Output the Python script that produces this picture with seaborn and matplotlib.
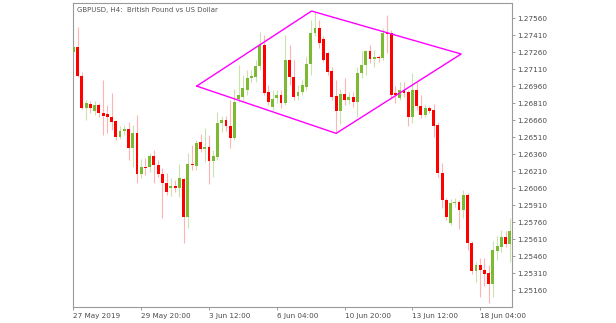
import numpy as np
import pandas as pd
import matplotlib
matplotlib.use("Agg")
import matplotlib.pyplot as plt
import seaborn as sns

# ---- data (GBPUSD H4 candles) ----
opens = [1.27260, 1.27304, 1.27049, 1.26766, 1.26802, 1.26740, 1.26793, 1.26722, 1.26713, 1.26687,
         1.26652, 1.26511, 1.26564, 1.26581, 1.26414, 1.26546, 1.26184, 1.26246, 1.26246, 1.26343,
         1.26264, 1.26184, 1.26105, 1.26061, 1.26078, 1.26061, 1.26140, 1.25805, 1.26272, 1.26255,
         1.26467, 1.26405, 1.26422, 1.26299, 1.26334, 1.26634, 1.26661, 1.26608, 1.26502, 1.26846,
         1.26863, 1.26925, 1.27031, 1.27040, 1.27137, 1.27322, 1.26907, 1.26775, 1.26855, 1.26881,
         1.26810, 1.27190, 1.27040, 1.26872, 1.26907, 1.26952, 1.27155, 1.27428, 1.27472, 1.27375,
         1.27252, 1.27093, 1.26872, 1.26740, 1.26890, 1.26837, 1.26863, 1.26819, 1.27075, 1.27146,
         1.27269, 1.27199, 1.27216, 1.27207, 1.27437, 1.27428, 1.26899, 1.26855, 1.26925, 1.26907,
         1.26687, 1.26925, 1.26784, 1.26705, 1.26766, 1.26749, 1.26616, 1.26193, 1.25955, 1.25752,
         1.25928, 1.25937, 1.25867, 1.25999, 1.25576, 1.25329, 1.25382, 1.25337, 1.25311, 1.25214,
         1.25505, 1.25541, 1.25629, 1.25567]
highs = [1.27313, 1.27481, 1.27084, 1.26837, 1.26828, 1.26828, 1.26810, 1.27013, 1.26793, 1.26899,
         1.26661, 1.26608, 1.26616, 1.26643, 1.26616, 1.26705, 1.26316, 1.26325, 1.26369, 1.26396,
         1.26308, 1.26237, 1.26193, 1.26149, 1.26131, 1.26272, 1.26149, 1.26369, 1.26440, 1.26484,
         1.26537, 1.26590, 1.26528, 1.26396, 1.26731, 1.26696, 1.26696, 1.26837, 1.26934, 1.27146,
         1.27057, 1.27102, 1.27102, 1.27190, 1.27437, 1.27410, 1.26969, 1.26925, 1.26925, 1.26925,
         1.27410, 1.27322, 1.27190, 1.26969, 1.27013, 1.27216, 1.27543, 1.27613, 1.27543, 1.27401,
         1.27260, 1.27128, 1.27013, 1.26934, 1.27031, 1.26907, 1.26907, 1.27128, 1.27269, 1.27278,
         1.27322, 1.27278, 1.27234, 1.27472, 1.27587, 1.27454, 1.26960, 1.26996, 1.26996, 1.26925,
         1.27075, 1.26996, 1.26881, 1.26793, 1.26784, 1.26802, 1.26643, 1.26281, 1.25973, 1.25964,
         1.25973, 1.25955, 1.26043, 1.26017, 1.25593, 1.25408, 1.25443, 1.25443, 1.25382, 1.25593,
         1.25637, 1.25690, 1.25682, 1.25796]
lows = [1.27255, 1.27040, 1.26758, 1.26661, 1.26722, 1.26705, 1.26687, 1.26528, 1.26546, 1.26572,
        1.26484, 1.26493, 1.26528, 1.26308, 1.26246, 1.26105, 1.26149, 1.26175, 1.26202, 1.26105,
        1.26158, 1.25796, 1.25999, 1.25990, 1.26026, 1.25981, 1.25576, 1.25708, 1.26220, 1.26220,
        1.26378, 1.26290, 1.26096, 1.26158, 1.26308, 1.26555, 1.26564, 1.26414, 1.26484, 1.26819,
        1.26837, 1.26881, 1.26996, 1.26996, 1.27102, 1.26881, 1.26793, 1.26749, 1.26810, 1.26766,
        1.26793, 1.26969, 1.26837, 1.26837, 1.26881, 1.26925, 1.27057, 1.27401, 1.27296, 1.27172,
        1.27057, 1.26837, 1.26546, 1.26625, 1.26793, 1.26802, 1.26775, 1.26687, 1.27031, 1.27057,
        1.27163, 1.27128, 1.27172, 1.27190, 1.27252, 1.26855, 1.26810, 1.26837, 1.26863, 1.26608,
        1.26634, 1.26749, 1.26678, 1.26687, 1.26722, 1.26511, 1.26158, 1.25884, 1.25779, 1.25735,
        1.25893, 1.25699, 1.25796, 1.25514, 1.25302, 1.25232, 1.25098, 1.25196, 1.25046, 1.25098,
        1.25426, 1.25496, 1.25541, 1.25408]
closes = [1.27304, 1.27049, 1.26766, 1.26810, 1.26766, 1.26793, 1.26722, 1.26696, 1.26687, 1.26643,
          1.26511, 1.26564, 1.26581, 1.26414, 1.26546, 1.26184, 1.26246, 1.26233, 1.26343, 1.26264,
          1.26184, 1.26105, 1.26026, 1.26078, 1.26061, 1.26149, 1.25805, 1.26272, 1.26264, 1.26458,
          1.26405, 1.26422, 1.26299, 1.26343, 1.26634, 1.26661, 1.26608, 1.26502, 1.26819, 1.26881,
          1.26943, 1.27031, 1.27049, 1.27137, 1.27322, 1.26899, 1.26819, 1.26846, 1.26881, 1.26810,
          1.27190, 1.27040, 1.26863, 1.26907, 1.26969, 1.27155, 1.27428, 1.27472, 1.27340, 1.27190,
          1.27084, 1.26863, 1.26740, 1.26890, 1.26837, 1.26863, 1.26819, 1.27075, 1.27146, 1.27269,
          1.27199, 1.27216, 1.27207, 1.27428, 1.27419, 1.26881, 1.26881, 1.26925, 1.26899, 1.26687,
          1.26925, 1.26784, 1.26705, 1.26766, 1.26740, 1.26608, 1.26193, 1.25955, 1.25805, 1.25928,
          1.25937, 1.25867, 1.25999, 1.25576, 1.25329, 1.25382, 1.25337, 1.25302, 1.25214, 1.25514,
          1.25549, 1.25629, 1.25567, 1.25682]

date_labels = ["27 May 2019", "29 May 20:00", "3 Jun 12:00", "6 Jun 04:00",
               "10 Jun 20:00", "13 Jun 12:00", "18 Jun 04:00"]
date_label_bars = [0, 16, 32, 48, 64, 80, 96]
price_ticks = [1.25160, 1.25310, 1.25460, 1.25610, 1.25760, 1.25910, 1.26060, 1.26210, 1.26360,
               1.26510, 1.26660, 1.26810, 1.26960, 1.27110, 1.27260, 1.27410, 1.27560]

# diamond pattern vertices (bar position, price)
diamond_bar = [29.1, 56.2, 91.5, 62.0, 29.1]
diamond_price = [1.26960, 1.27622, 1.27243, 1.26543, 1.26960]

title = "GBPUSD, H4:  British Pound vs US Dollar"

# ---- plotting ----
sns.set_theme(style="white")
plt.rcParams['font.family'] = ['DejaVu Sans']

W, H = 616, 323
fig = plt.figure(figsize=(W / 100, H / 100), dpi=100)
ax = fig.add_axes([73 / W, 16 / H, (512 - 73) / W, (307 - 3) / H])

df = pd.DataFrame({"bar": np.arange(len(opens)), "open": opens, "high": highs,
                   "low": lows, "close": closes})
up = df["close"] >= df["open"]

body_up = "#7cba34"
body_dn = "#ff0000"
wick_up = "#c9e3ad"
wick_dn = "#ffb4b4"

wick_colors = np.where(up, wick_up, wick_dn)
ax.vlines(df["bar"], df["low"], df["high"], colors=wick_colors, linewidth=0.8, zorder=2)

body_lo = np.minimum(df["open"], df["close"])
body_h = np.abs(df["close"] - df["open"])
min_h = 0.00007
body_lo = np.where(body_h < min_h, (df["open"] + df["close"]) / 2 - min_h / 2, body_lo)
body_h = np.maximum(body_h, min_h)
ax.bar(df["bar"], body_h, bottom=body_lo, width=0.68,
       color=np.where(up, body_up, body_dn), linewidth=0, zorder=3)

ax.plot(diamond_bar, diamond_price, color="#ff00ff", linewidth=1.0, zorder=4)

ax.set_xlim(-0.1, 103.5)
ax.set_ylim(1.25011, 1.27693)

# y axis on the right
ax.yaxis.tick_right()
ax.set_yticks(price_ticks)
ax.set_yticklabels([f"{p:.5f}" for p in price_ticks])
ax.set_xticks(date_label_bars)
ax.set_xticklabels(date_labels, ha="left")

ax.tick_params(axis="y", which="both", right=True, left=False, length=2.5, width=0.6,
               color="#8c8c8c", labelsize=5.2, labelcolor="#4a4a4a", pad=1.0)
ax.tick_params(axis="x", which="both", bottom=True, length=2.5, width=0.6,
               color="#8c8c8c", labelsize=5.2, labelcolor="#4a4a4a", pad=1.5)

for s in ax.spines.values():
    s.set_color("#9a9a9a")
    s.set_linewidth(0.8)

ax.grid(False)
ax.text(0.008, 0.988, title, transform=ax.transAxes, ha="left", va="top",
        fontsize=5.0, color="#555555")

fig.savefig("out.png", dpi=100)
